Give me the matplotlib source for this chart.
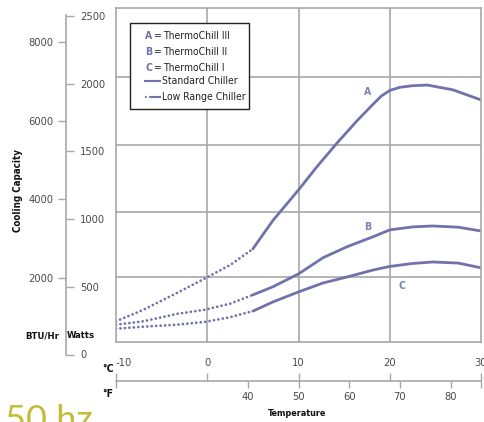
import matplotlib
matplotlib.use('Agg')
import matplotlib.pyplot as plt
from matplotlib.lines import Line2D
from matplotlib.patches import Rectangle

plt.rcParams['font.family'] = ['DejaVu Sans']
plt.rcParams['font.stretch'] = 'condensed'

# values: temperature in deg C, capacity in Watts
temp_low = [-10, -7, -3.3, -0.3, 2.5, 5]
a_low = [245, 330, 455, 560, 660, 780]
b_low = [220, 245, 300, 330, 375, 440]
c_low = [190, 205, 220, 240, 275, 320]

a_temp = [5, 7.2, 10, 12, 14.2, 16.4, 18.2, 19.1, 20, 21.1, 22.5, 24.1, 26.9, 30]
a_std = [780, 990, 1215, 1385, 1560, 1725, 1850, 1910, 1950, 1973, 1985, 1990, 1955, 1880]
b_temp = [5, 7.2, 10, 12.7, 15.3, 18.2, 20, 22.5, 24.7, 27.5, 30]
b_std = [440, 500, 595, 715, 795, 870, 920, 942, 949, 940, 912]
c_temp = [5, 7.2, 10, 12.7, 15.3, 18.2, 20, 22.5, 24.7, 27.5, 30]
c_std = [320, 388, 462, 528, 572, 624, 650, 672, 683, 675, 640]

watt_ticks = [0, 500, 1000, 1500, 2000, 2500]
btu_ticks = [2000, 4000, 6000, 8000]
c_ticks = [-10, 0, 10, 20, 30]
f_ticks = [14, 40, 50, 60, 70, 80, 86]
f_labels = ['', '40', '50', '60', '70', '80', '']

W, H = 484, 422
line_col = '#6f72ab'
grid_col = '#a8a8a8'
txt_col = '#4a4a4a'


def fx(px):
    return px / W


def fy(py):
    return 1 - py / H


fig = plt.figure(figsize=(4.84, 4.22), dpi=100)

# main grid box
ax = fig.add_axes([fx(116), fy(342), (481 - 116) / W, (342 - 8) / H])
ax.set_xlim(-10, 30)
ax.set_ylim(92, 2559)
ax.set_xticks([0, 10, 20])
ax.set_yticks([572, 1052, 1547, 2049])
ax.grid(True, color=grid_col, lw=1.2)
ax.tick_params(length=0, labelbottom=False, labelleft=False)
for s in ax.spines.values():
    s.set_color(grid_col)
    s.set_linewidth(1.2)

dot = dict(color=line_col, lw=2.0, linestyle=(0, (0.01, 1.6)), dash_capstyle='round')
ax.plot(temp_low, a_low, **dot)
ax.plot(temp_low, b_low, **dot)
ax.plot(temp_low, c_low, **dot)
ax.plot(a_temp, a_std, color=line_col, lw=2.0, solid_capstyle='round')
ax.plot(b_temp, b_std, color=line_col, lw=2.0, solid_capstyle='round')
ax.plot(c_temp, c_std, color=line_col, lw=2.0, solid_capstyle='round')

lab = dict(color='#7b7fb5', fontsize=7.5, fontweight='bold', ha='center', va='center')
ax.text(17.6, 1939, 'A', **lab)
ax.text(17.6, 942, 'B', **lab)
ax.text(21.3, 506, 'C', **lab)

# legend box
fig.patches.append(Rectangle((fx(130), fy(109)), (249 - 130) / W, (109 - 23) / H,
                             transform=fig.transFigure, facecolor='white',
                             edgecolor='#222222', lw=1.0, zorder=5))
rows = [('A', 'ThermoChill III', 36), ('B', 'ThermoChill II', 52), ('C', 'ThermoChill I', 68)]
for letter, name, yy in rows:
    fig.text(fx(145), fy(yy), letter, color='#6f72ab', fontsize=7.5, fontweight='bold',
             va='center', zorder=6)
    fig.text(fx(153), fy(yy), '=', color='#222222', fontsize=7.5, va='center', zorder=6)
    fig.text(fx(163), fy(yy), name, color='#222222', fontsize=7.5, va='center', zorder=6)
fig.lines.append(Line2D([fx(145), fx(160)], [fy(81), fy(81)], transform=fig.transFigure,
                        color=line_col, lw=1.5, zorder=6))
fig.text(fx(162), fy(81), 'Standard Chiller', color='#222222', fontsize=7.5, va='center', zorder=6)
fig.lines.append(Line2D([fx(145), fx(151)], [fy(97), fy(97)], transform=fig.transFigure,
                        color=line_col, lw=1.5, linestyle=(0, (0.8, 1.2)), zorder=6))
fig.lines.append(Line2D([fx(152), fx(160)], [fy(97), fy(97)], transform=fig.transFigure,
                        color=line_col, lw=1.5, zorder=6))
fig.text(fx(162), fy(97), 'Low Range Chiller', color='#222222', fontsize=7.5, va='center', zorder=6)

# left scale: BTU/Hr on the left of the line, Watts on the right
pos = [fx(66), fy(354.5), 0.0001, (354.5 - 15) / H]
ax_btu = fig.add_axes(pos)
ax_btu.set_ylim(56, 8684)
ax_btu.set_yticks(btu_ticks)
ax_btu.set_xticks([])
ax_btu.patch.set_visible(False)
for k in ['top', 'right', 'bottom']:
    ax_btu.spines[k].set_visible(False)
ax_btu.spines['left'].set_color(grid_col)
ax_btu.spines['left'].set_linewidth(1.2)
ax_btu.tick_params(axis='y', length=6, width=1.0, color=grid_col, labelcolor=txt_col,
                   labelsize=8, pad=3)

ax_w = fig.add_axes(pos)
ax_w.set_ylim(0, 2507)
ax_w.set_yticks(watt_ticks)
ax_w.set_xticks([])
ax_w.patch.set_visible(False)
for s in ax_w.spines.values():
    s.set_visible(False)
ax_w.yaxis.set_ticks_position('right')
ax_w.tick_params(axis='y', length=6, width=1.0, color=grid_col, labelcolor=txt_col,
                 labelsize=8, pad=4)

# bottom scale: deg C above the line, deg F below
ax_c = fig.add_axes([fx(116), fy(381), (481 - 116) / W, 0.0001])
ax_c.set_xlim(-10, 30)
ax_c.set_yticks([])
ax_c.patch.set_visible(False)
for k in ['left', 'right', 'bottom']:
    ax_c.spines[k].set_visible(False)
ax_c.spines['top'].set_color(grid_col)
ax_c.spines['top'].set_linewidth(1.2)
ax_c.xaxis.set_ticks_position('top')
ax_c.set_xticks(c_ticks)
ax_c.set_xticklabels([str(t) for t in c_ticks])
ax_c.tick_params(axis='x', length=6, width=1.0, color=grid_col, labelcolor=txt_col,
                 labelsize=8, pad=3)
ax_c.get_xticklabels()[0].set_horizontalalignment('left')

sec = ax_c.secondary_xaxis('bottom', functions=(lambda c: c * 9 / 5 + 32,
                                                lambda f: (f - 32) * 5 / 9))
sec.set_xticks(f_ticks)
sec.set_xticklabels(f_labels)
sec.spines['bottom'].set_visible(False)
sec.tick_params(axis='x', length=5, width=1.0, color=grid_col, labelcolor=txt_col,
                labelsize=8, pad=3)

# axis titles
bold = dict(fontweight='bold', color='#111111')
fig.text(fx(18), fy(190), 'Cooling Capacity', rotation=90, ha='center', va='center',
         fontsize=7, **bold)
fig.text(fx(42), fy(336), 'BTU/Hr', ha='center', va='center', fontsize=6.8, **bold)
fig.text(fx(81), fy(336), 'Watts', ha='center', va='center', fontsize=6.8, **bold)
fig.text(fx(108), fy(369), '\u00b0C', ha='center', va='center', fontsize=7.5, **bold)
fig.text(fx(108), fy(394), '\u00b0F', ha='center', va='center', fontsize=7.5, **bold)
fig.text(fx(297), fy(414), 'Temperature', ha='center', va='center', fontsize=6.5, **bold)

fig.text(fx(5), fy(404), '50 hz', ha='left', va='top', fontsize=26, color='#c4bd3a',
         family=['Lato', 'DejaVu Sans'], fontweight='normal', fontstretch='normal')

fig.savefig('out.png', dpi=100)
